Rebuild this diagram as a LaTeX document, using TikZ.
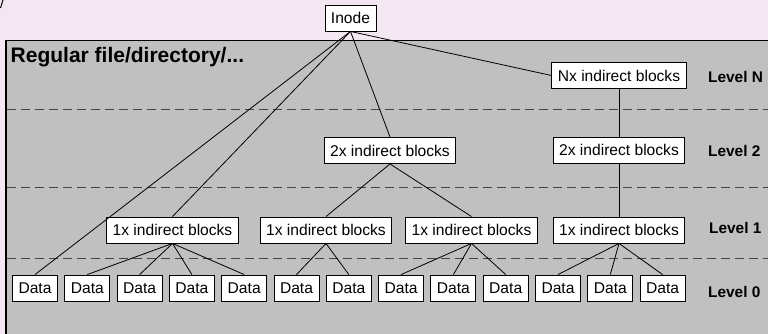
\documentclass[tikz,border=0pt]{standalone}
\usepackage{fontspec}
\setmainfont{Liberation Sans}
\definecolor{bgpink}{HTML}{F3E7F1}
\definecolor{panelgray}{HTML}{C0C0C0}
\definecolor{dashgray}{HTML}{454545}
\begin{document}
\begin{tikzpicture}[x=1pt,y=-1pt,
  blk/.style={draw=black,fill=white,line width=0.9pt,inner xsep=6pt,inner ysep=0pt,minimum height=26pt,font=\fontsize{15.6}{18}\selectfont},
  lvl/.style={anchor=west,font=\bfseries\fontsize{15.4}{18}\selectfont,inner sep=0pt},
  sep/.style={dashgray,line width=1pt,dash pattern=on 9.5pt off 4.5pt},
  con/.style={line width=0.8pt,black}]
\useasboundingbox (0,0) rectangle (768,334);
\fill[bgpink] (0,0) rectangle (768,334);
\draw[line width=1pt] (0.5,8) .. controls (1.2,4) .. (3,0);
\draw[fill=panelgray,line width=1.3pt] (6,40.5) rectangle (775,345);
\node[anchor=west,inner sep=0pt,font=\bfseries\fontsize{21}{24}\selectfont] (title) at (10.5,57) {Regular file/directory/...};
% separators
\coordinate (s1a) at (6.5,110); \coordinate (s1b) at (768,110);
\coordinate (s2a) at (6.5,187); \coordinate (s2b) at (768,187);
\coordinate (s3a) at (6.5,258); \coordinate (s3b) at (768,258);
\draw[sep] (s1a) -- (s1b);
\draw[sep] (s2a) -- (s2b);
\draw[sep] (s3a) -- (s3b);
% level labels
\node[lvl] (lN) at (708,77) {Level N};
\node[lvl] (l2) at (708,151) {Level 2};
\node[lvl] (l1) at (709,227.5) {Level 1};
\node[lvl] (l0) at (708,291.5) {Level 0};
% nodes
\node[blk] (inode) at (350.5,18) {Inode};
\node[blk] (nx) at (619,75.5) {Nx indirect blocks};
\node[blk] (twoa) at (390,150.5) {2x indirect blocks};
\node[blk] (twob) at (619,150) {2x indirect blocks};
\node[blk] (onea) at (172.5,230) {1x indirect blocks};
\node[blk] (oneb) at (326,230) {1x indirect blocks};
\node[blk] (onec) at (471.5,230) {1x indirect blocks};
\node[blk] (oned) at (619,230) {1x indirect blocks};
\foreach \i in {0,...,12} {
  \node[blk] (d\i) at ({35+52.3*\i},288) {Data};
}
% connectors
\draw[con] (inode.south) -- (d0.north);
\draw[con] (inode.south) -- (onea.north);
\draw[con] (inode.south) -- (twoa.north);
\draw[con] (inode.south) -- (nx.west);
\draw[con] (nx) -- (twob);
\draw[con] (twob) -- (oned);
\draw[con] (twoa.south) -- (oneb.north);
\draw[con] (twoa.south) -- (onec.north);
\foreach \j in {1,2,3,4} { \draw[con] (onea.south) -- (d\j.north); }
\foreach \j in {5,6} { \draw[con] (oneb.south) -- (d\j.north); }
\foreach \j in {7,8,9} { \draw[con] (onec.south) -- (d\j.north); }
\foreach \j in {10,11,12} { \draw[con] (oned.south) -- (d\j.north); }
\end{tikzpicture}
\end{document}
